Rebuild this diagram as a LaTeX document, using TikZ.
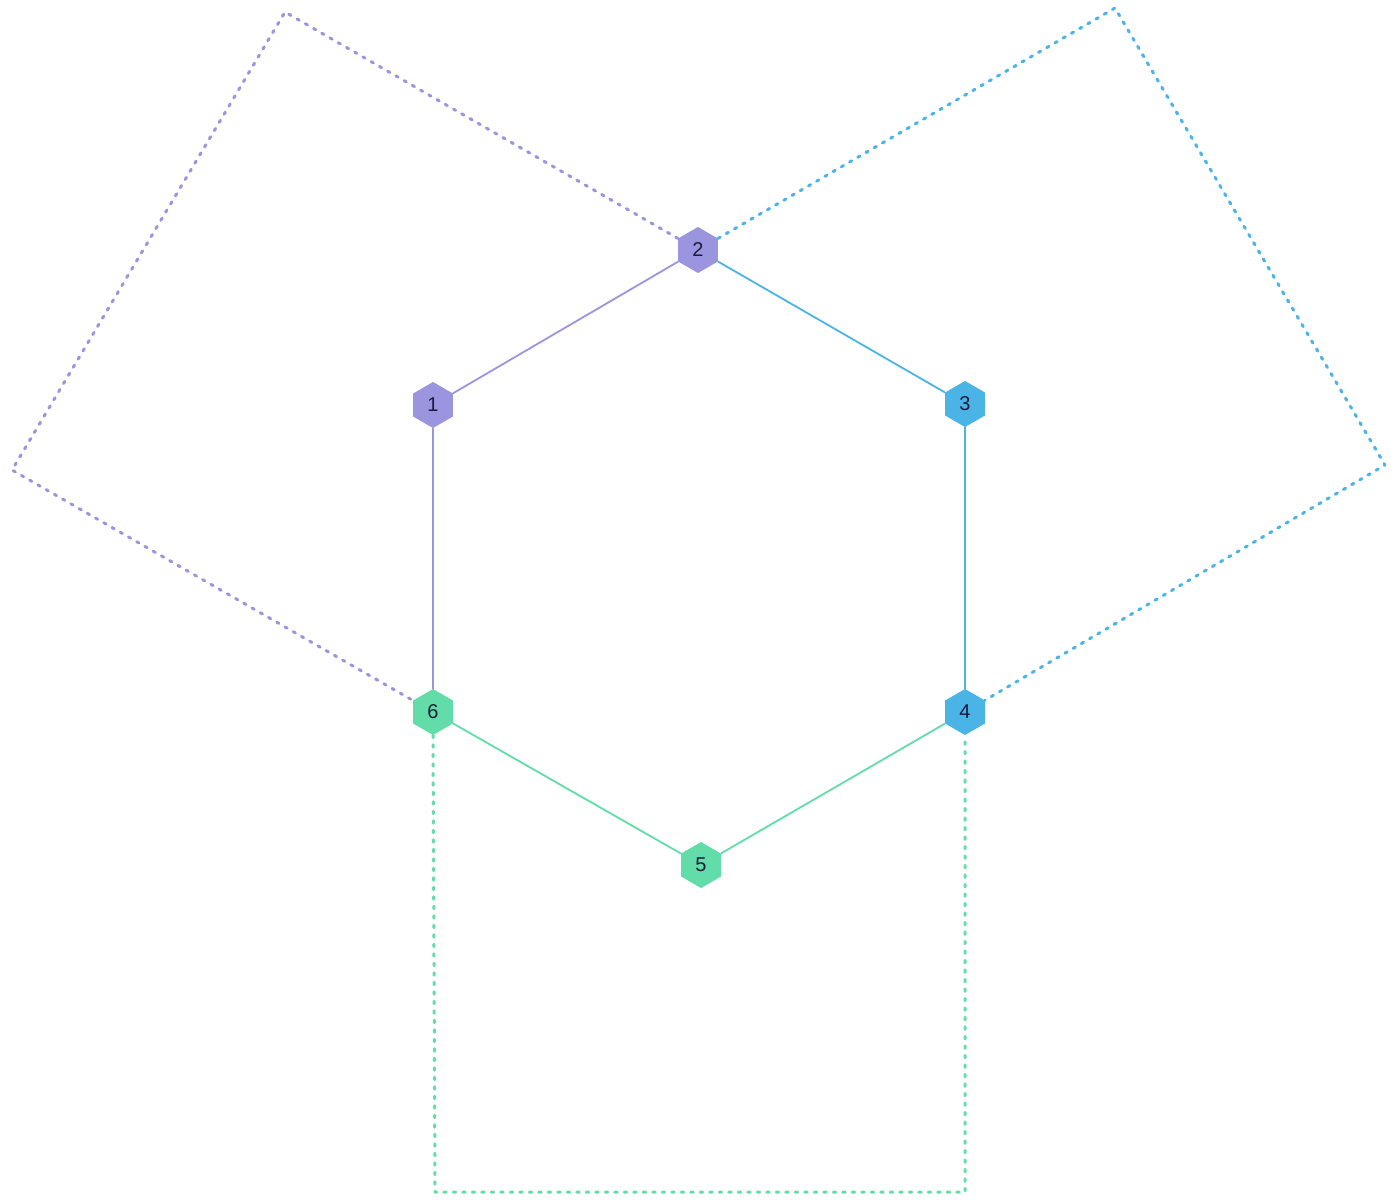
\documentclass[tikz,border=0pt]{standalone}
\usepackage{fontspec}
\setmainfont{Liberation Sans}
\usetikzlibrary{shapes.geometric}
\definecolor{ringPurple}{HTML}{9B95E0}
\definecolor{ringBlue}{HTML}{4BB4E6}
\definecolor{ringGreen}{HTML}{62DCA9}
\definecolor{labelInk}{HTML}{1B1B3A}
\begin{document}
\begin{tikzpicture}[x=1pt, y=-1pt, line cap=round, line join=round,
  hexnode/.style={regular polygon, regular polygon sides=6, shape border rotate=30,
    minimum size=46pt, inner sep=0pt, text=labelInk, font=\fontsize{20}{20}\selectfont},
  ringedge/.style={line width=1.8pt},
  loopedge/.style={line width=3pt, dash pattern=on 2.5pt off 7pt}]
% Canvas, in pixels of the reference
\fill[white] (0,0) rectangle (1400,1200);
\useasboundingbox (0,0) rectangle (1400,1200);
% Hexagon nodes
\node[hexnode, fill=ringPurple] (n1) at (433,405) {1};
\node[hexnode, fill=ringPurple] (n2) at (698,250) {2};
\node[hexnode, fill=ringBlue]   (n3) at (965,404) {3};
\node[hexnode, fill=ringBlue]   (n4) at (965,712) {4};
\node[hexnode, fill=ringGreen]  (n5) at (701,865) {5};
\node[hexnode, fill=ringGreen]  (n6) at (433,712) {6};
% Outer corners of the dotted loops
\coordinate (pTop)   at (285,12);
\coordinate (pLeft)  at (12,470);
\coordinate (bTop)   at (1115,8);
\coordinate (bRight) at (1385,465);
\coordinate (gLeft)  at (435,1192);
\coordinate (gRight) at (965,1192);
% Ring edges
\begin{scope}[ringedge]
  \draw[ringPurple] (n1) -- (n2);
  \draw[ringBlue]   (n2) -- (n3);
  \draw[ringBlue]   (n3) -- (n4);
  \draw[ringGreen]  (n4) -- (n5);
  \draw[ringGreen]  (n5) -- (n6);
  \draw[ringPurple] (n6) -- (n1);
\end{scope}
% Dotted loops
\begin{scope}[loopedge]
  \draw[ringPurple] (n2) -- (pTop) -- (pLeft) -- (n6);
  \draw[ringBlue]   (n2) -- (bTop) -- (bRight) -- (n4);
  \draw[ringGreen]  (n6.south) -- (gLeft) -- (gRight) -- (n4.south);
\end{scope}
\end{tikzpicture}
\end{document}
